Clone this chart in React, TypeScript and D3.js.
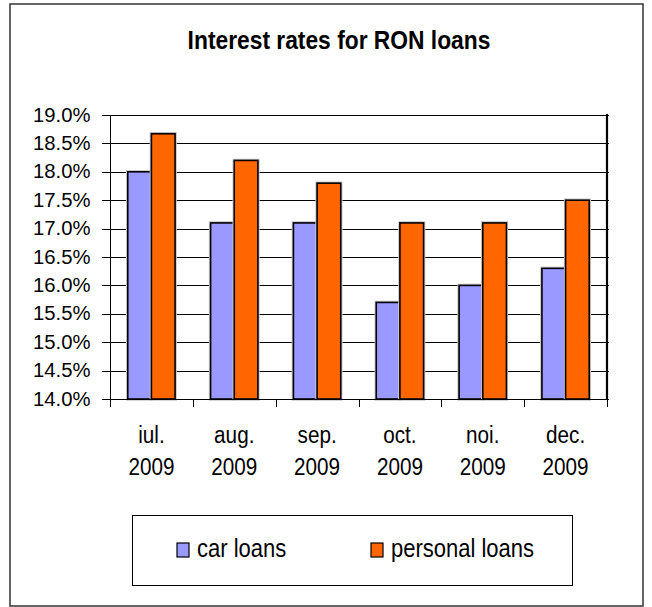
import React from "react";
import * as d3 from "d3";

const categories = ["iul. 2009", "aug. 2009", "sep. 2009", "oct. 2009", "noi. 2009", "dec. 2009"];
const seriesNames = ["car loans", "personal loans"];
const carLoans = [18.0, 17.1, 17.1, 15.7, 16.0, 16.3];
const personalLoans = [18.67, 18.2, 17.8, 17.1, 17.1, 17.5];
const yTicks = [14, 14.5, 15, 15.5, 16, 16.5, 17, 17.5, 18, 18.5, 19];
const title = "Interest rates for RON loans";

const colors = ["#9999FF", "#FF6600"];
const FONT = "'Liberation Sans', Arial, sans-serif";

export default function App() {
  const W = 652, H = 607;
  const left = 110, right = 607, top = 115, bottom = 399;
  const y = d3.scaleLinear().domain([14, 19]).range([bottom, top]);
  const x0 = d3.scaleBand<string>().domain(categories).range([left, right]).paddingInner(0).paddingOuter(0);
  const x1 = d3.scaleBand<string>().domain(seriesNames).range([0, x0.bandwidth()]).paddingInner(0).paddingOuter(0.75);
  const values = [carLoans, personalLoans];
  const fmt = d3.format(".1f");
  const catEdges = d3.range(categories.length + 1).map((i) => left + i * x0.step());
  const stretch = 1.13;

  return (
    <svg width={W} height={H} style={{ position: "absolute", left: 0, top: 0, background: "#fff" }} fontFamily={FONT}>
      <rect x={10} y={4} width={633} height={602} fill="#fff" stroke="#333" strokeWidth={1.5} />
      <text transform={`translate(339,49) scale(1,1.16)`} textAnchor="middle" fontWeight="bold" fontSize={22.8} fill="#000">
        {title}
      </text>

      {/* gridlines */}
      {yTicks.map((t) => (
        <line key={t} x1={left - 8} x2={right + 2} y1={Math.round(y(t)) + 0.5} y2={Math.round(y(t)) + 0.5} stroke="#000" strokeWidth={1} />
      ))}
      {/* y labels */}
      {yTicks.map((t) => (
        <text key={"l" + t} x={90.5} y={y(t) + 6.5} textAnchor="end" fontSize={20.3} fill="#000">
          {fmt(t) + "%"}
        </text>
      ))}

      {/* bars */}
      {categories.map((c, i) => (
        <g key={c} transform={`translate(${x0(c)},0)`}>
          {seriesNames.map((s, j) => (
            <g key={s}>
              <rect
                x={x1(s)}
                y={y(values[j][i])}
                width={x1.bandwidth()}
                height={bottom - y(values[j][i])}
                fill="none"
                stroke="#c8c8c8"
                strokeWidth={3.5}
              />
              <rect
                x={x1(s)}
                y={y(values[j][i])}
                width={x1.bandwidth()}
                height={bottom - y(values[j][i])}
                fill={colors[j]}
                stroke="#000"
                strokeWidth={1.6}
              />
            </g>
          ))}
        </g>
      ))}

      {/* axes */}
      <line x1={left + 0.5} x2={left + 0.5} y1={top} y2={bottom} stroke="#000" strokeWidth={1} />
      <line x1={right} x2={right} y1={top - 1} y2={bottom} stroke="#000" strokeWidth={2.2} />
      <line x1={left} x2={right} y1={bottom + 0.5} y2={bottom + 0.5} stroke="#000" strokeWidth={1} />
      {catEdges.map((e, i) => (
        <line key={i} x1={Math.round(e) + 0.5} x2={Math.round(e) + 0.5} y1={bottom} y2={bottom + 8} stroke="#000" strokeWidth={1} />
      ))}

      {/* x labels */}
      {categories.map((c) => {
        const [m, yr] = c.split(" ");
        const cx = (x0(c) as number) + x0.bandwidth() / 2;
        return (
          <g key={"x" + c}>
            <text transform={`translate(${cx},${443}) scale(1,${stretch})`} textAnchor="middle" fontSize={20.7} fill="#000">{m}</text>
            <text transform={`translate(${cx},${475}) scale(1,${stretch})`} textAnchor="middle" fontSize={20.7} fill="#000">{yr}</text>
          </g>
        );
      })}

      {/* legend */}
      <rect x={132.5} y={515.5} width={440} height={70} fill="#fff" stroke="#000" strokeWidth={1} />
      {seriesNames.map((s, j) => {
        const sx = j === 0 ? 177 : 371;
        return (
          <g key={"lg" + s}>
            <rect x={sx} y={543} width={12} height={14} fill={colors[j]} stroke="#000" strokeWidth={1.2} />
            <text transform={`translate(${sx + 20},${557}) scale(1,${stretch})`} fontSize={22} fill="#000">{s}</text>
          </g>
        );
      })}
    </svg>
  );
}
